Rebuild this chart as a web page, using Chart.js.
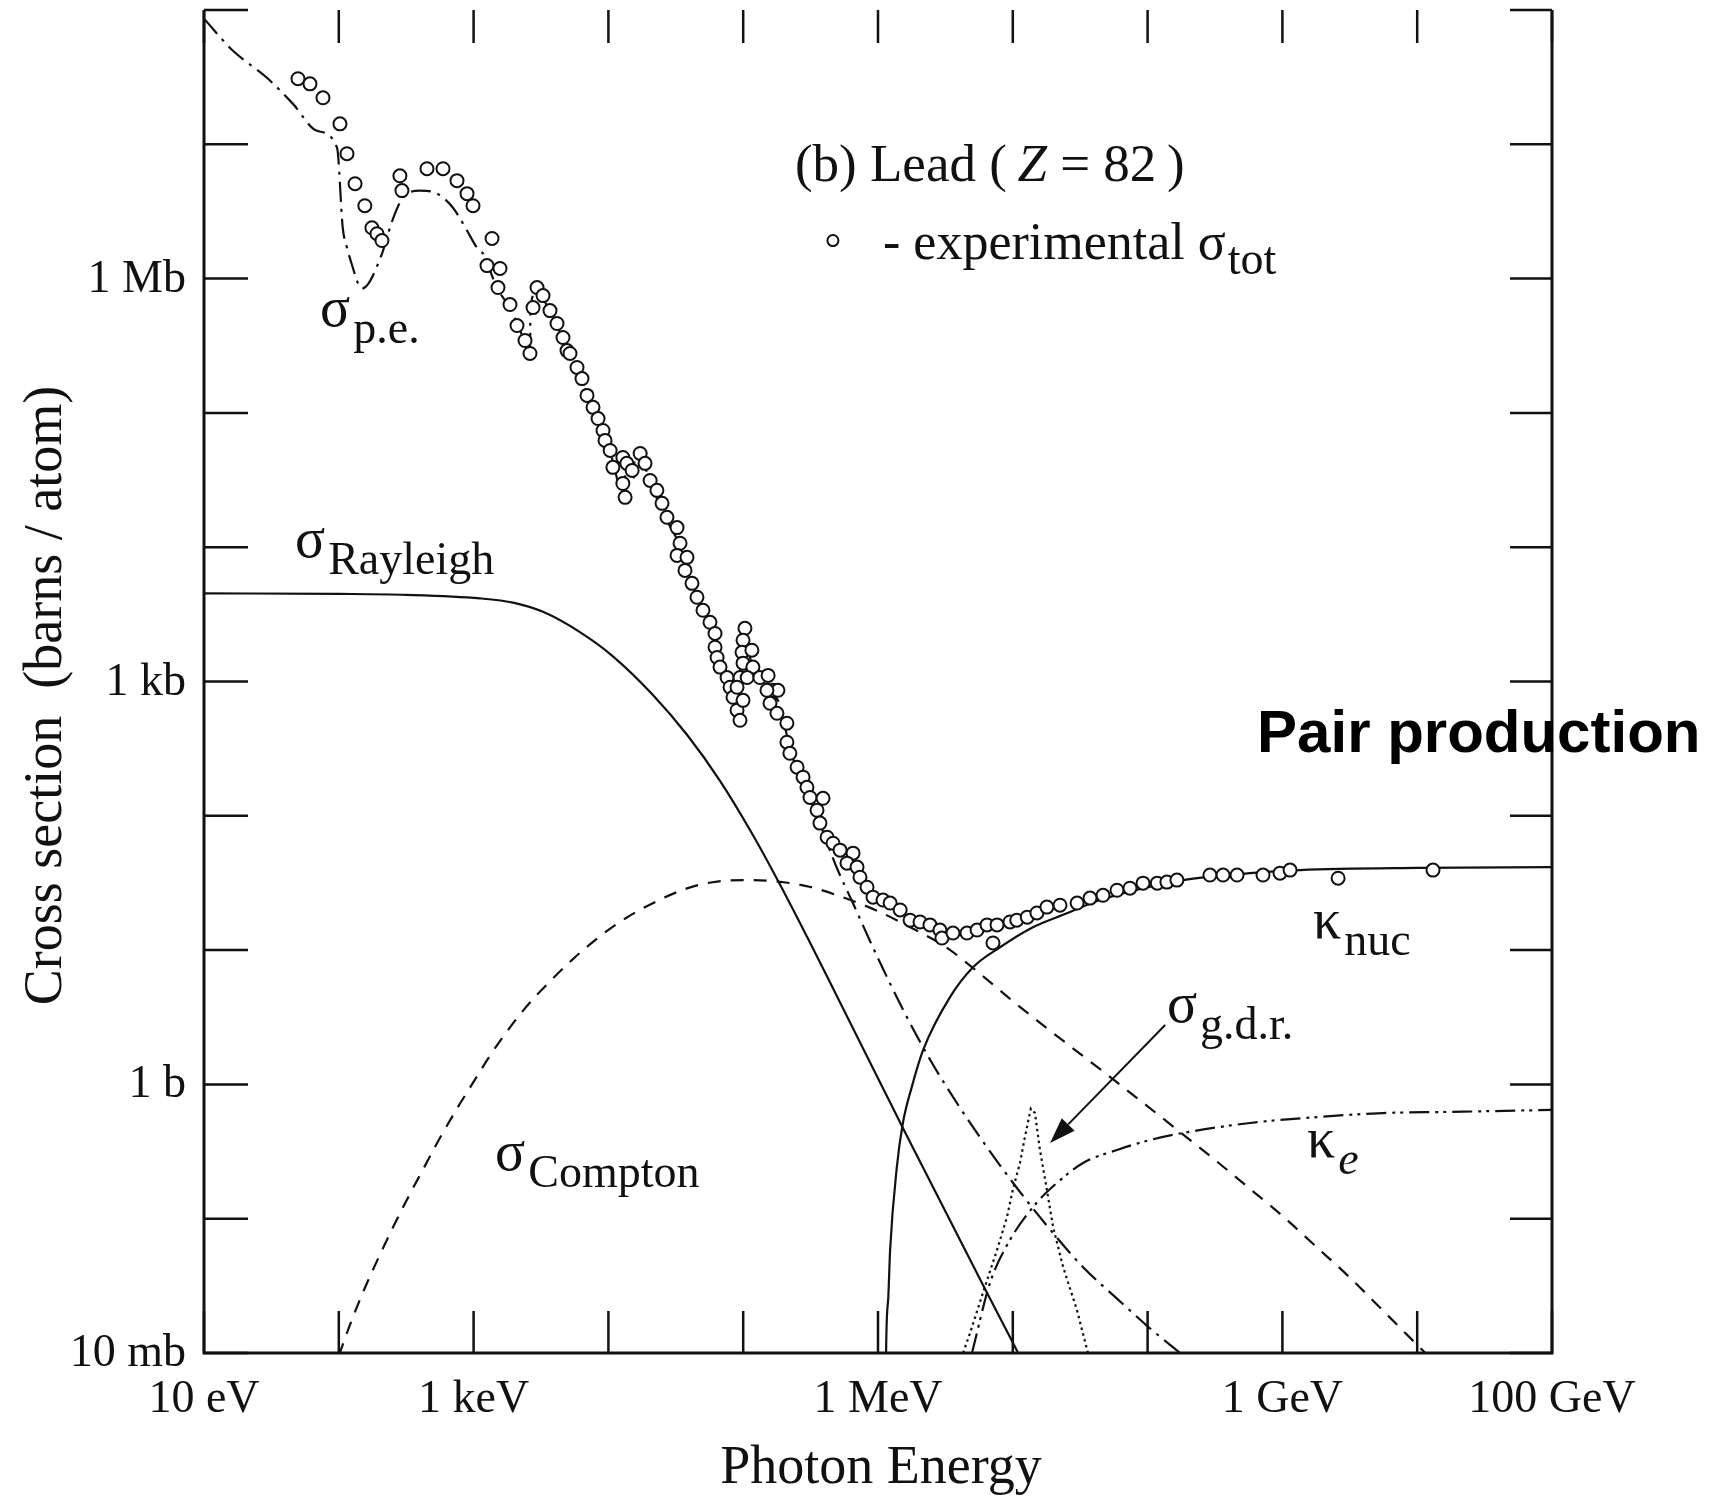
<!DOCTYPE html>
<html lang="en">
<head>
<meta charset="utf-8">
<title>Photon cross sections in lead</title>
<script src="https://cdn.jsdelivr.net/npm/chart.js@4/dist/chart.umd.min.js"></script>
<style>
  html, body { margin: 0; padding: 0; background: #ffffff; }
  canvas { display: block; }
</style>
</head>
<body>
<canvas id="chart" width="1714" height="1497"></canvas>
<script>
// Photon energies in eV, cross sections in barns per atom (lead, Z = 82).

// Experimental total cross section
const expEnergy = [
  49.8, 61.1, 76.3, 102, 115, 132, 156, 176, 192, 209,
  284, 294, 451, 593, 753, 894, 990, 1370, 1257, 1570,
  1517, 1862, 2099, 2406, 2620, 2955, 2760, 3273, 3688, 4157,
  4605, 4930, 5190, 5850, 6370, 6940, 7690, 8380, 9120, 9440,
  1.03e4, 1.08e4, 1.28e4, 1.33e4, 1.28e4, 1.37e4, 1.50e4, 1.72e4, 1.87e4, 2.04e4,
  2.29e4, 2.50e4, 2.72e4, 3.23e4, 3.40e4, 3.23e4, 3.83e4, 3.70e4, 4.17e4, 4.54e4,
  5.03e4, 5.67e4, 6.18e4, 6.18e4, 6.40e4, 6.73e4, 7.59e4, 7.99e4, 8.40e4, 9.00e4,
  9.47e4, 1.03e5, 9.97e4, 9.80e4, 1.16e5, 9.97e4, 1.18e5, 9.47e4, 9.00e4, 9.97e4,
  1.07e5, 1.33e5, 1.53e5, 1.66e5, 1.81e5, 1.50e5, 1.58e5, 1.78e5, 2.11e5, 2.11e5,
  2.22e5, 2.51e5, 2.78e5, 2.97e5, 3.13e5, 3.91e5, 3.53e5, 3.71e5, 4.19e5, 4.64e5,
  5.23e5, 6.53e5, 5.89e5, 6.99e5, 7.35e5, 8.29e5, 9.18e5, 1.09e6, 1.23e6, 1.46e6,
  1.73e6, 2.05e6, 2.43e6, 2.88e6, 2.98e6, 3.60e6, 4.57e6, 5.43e6, 6.44e6, 7.64e6,
  7.13e6, 9.53e6, 1.07e7, 1.28e7, 1.51e7, 1.79e7, 2.24e7, 3.00e7, 3.74e7, 4.67e7,
  5.93e7, 7.40e7, 9.25e7, 1.18e8, 1.39e8, 1.65e8, 2.90e8, 3.63e8, 4.61e8, 7.18e8,
  9.60e8, 1.14e9, 2.59e9, 1.31e10
];
const expSigma = [
  3.08e7, 2.82e7, 2.22e7, 1.42e7, 8.51e6, 5.09e6, 3.49e6, 2.39e6, 2.16e6, 1.92e6,
  5.83e6, 4.52e6, 6.58e6, 6.58e6, 5.36e6, 4.29e6, 3.49e6, 1.99e6, 1.25e6, 1.19e6,
  8.58e5, 6.41e5, 4.47e5, 3.46e5, 2.77e5, 8.58e5, 6.08e5, 7.47e5, 5.78e5, 4.63e5,
  3.64e5, 2.91e5, 2.77e5, 2.18e5, 1.80e5, 1.35e5, 1.10e5, 9.08e4, 7.40e4, 6.24e4,
  5.25e4, 3.93e4, 2.98e4, 2.35e4, 4.66e4, 4.21e4, 3.73e4, 4.99e4, 4.21e4, 3.14e4,
  2.65e4, 2.12e4, 1.67e4, 1.40e4, 1.07e4, 8.69e3, 8.40e3, 6.72e3, 5.38e3, 4.24e3,
  3.39e3, 2.76e3, 2.28e3, 1.80e3, 1.51e3, 1.28e3, 1.07e3, 906, 763, 611,
  514, 2.49e3, 2.03e3, 1.65e3, 1.71e3, 1.37e3, 1.28e3, 1.07e3, 906, 724,
  1.07e3, 1.07e3, 1.11e3, 860, 860, 860, 688, 580, 489, 353,
  292, 230, 194, 163, 137, 135, 110, 88.2, 69.3, 62.5,
  55.5, 52.7, 44.4, 41.5, 34.9, 29.4, 24.8, 23.6, 22.4, 19.9,
  16.7, 16.2, 15.4, 14.1, 12.3, 13.4, 13.4, 14.1, 15.4, 15.4,
  11.3, 16.2, 16.7, 17.6, 18.9, 20.9, 21.6, 22.4, 24.4, 25.6,
  27.9, 28.9, 31.5, 31.5, 32.1, 33.2, 36.2, 36.2, 36.2, 36.2,
  37.4, 39.4, 34.3, 39.4
];

// Photoelectric absorption
const peEnergy = [
  10, 16.4, 29.3, 45.7, 68.9, 97.0, 107, 115, 127, 139,
  149, 209, 232, 261, 299, 400, 536, 703, 893, 1059,
  1175, 1493, 1862, 2208, 2620, 2640, 2955, 3273, 3690, 4764,
  6368, 8375, 1.028e4, 1.33e4, 1.335e4, 1.50e4, 1.55e4, 1.56e4, 1.72e4, 2.04e4,
  2.72e4, 3.40e4, 4.54e4, 5.87e4, 7.59e4, 9.0e4, 9.55e4, 9.6e4, 1.03e5, 1.18e5,
  1.50e5, 1.81e5, 2.11e5, 2.51e5, 2.97e5, 3.53e5, 4.19e5, 5.01e5, 6.31e5, 1.0e6,
  1.58e6, 2.51e6, 3.98e6, 6.31e6, 1.07e7, 2.0e7, 3.31e7, 6.31e7, 1.0e8, 1.74e8, 2.0e8
];
const peSigma = [
  8.61e7, 4.97e7, 3.13e7, 2.00e7, 1.26e7, 9.44e6, 2.39e6, 1.70e6, 1.21e6, 9.18e5,
  8.43e5, 1.53e6, 2.16e6, 3.05e6, 4.01e6, 4.52e6, 4.29e6, 3.37e6, 2.28e6, 1.70e6,
  1.53e6, 8.51e5, 6.03e5, 4.17e5, 2.60e5, 5.90e5, 8.20e5, 7.20e5, 5.50e5, 3.39e5,
  1.74e5, 8.91e4, 5.13e4, 2.30e4, 4.30e4, 3.50e4, 3.30e4, 4.70e4, 4.70e4, 3.02e4,
  1.58e4, 1.02e4, 4.07e3, 2.63e3, 1.02e3, 600, 500, 2.40e3, 2.14e3, 1.26e3,
  832, 724, 398, 214, 148, 100, 63, 39.8, 24.0, 8.7,
  3.4, 1.45, 0.69, 0.35, 0.170, 0.0776, 0.0437, 0.024, 0.0158, 0.0100, 0.0089
];

// Coherent (Rayleigh) scattering
const rayleighEnergy = [10, 100, 316, 1114, 2000, 3273, 6150, 1.08e4, 2.14e4, 3.83e4, 6.73e4, 1.18e5, 1.87e5, 2.97e5, 4.97e5, 1.58e6, 6.01e6, 1.17e7];
const rayleighSigma = [4530, 4490, 4420, 4160, 3850, 3300, 2330, 1540, 794, 401, 182, 71.9, 30.9, 12.6, 4.52, 0.444, 0.0321, 0.0088];

// Incoherent (Compton) scattering
const comptonEnergy = [
  100, 121, 156, 202, 252, 337, 422, 536, 753, 991,
  1324, 1862, 2618, 3690, 5458, 8670, 1.37e4, 2.30e4, 3.83e4, 6.40e4,
  1.18e5, 2.0e5, 3.16e5, 5.62e5, 1.0e6, 1.78e6, 3.16e6, 5.62e6, 1.0e7, 1.78e7,
  3.16e7, 5.62e7, 1.0e8, 1.78e8, 3.16e8, 5.62e8, 1.0e9, 1.78e9, 3.16e9, 5.62e9,
  1.0e10, 1.15e10
];
const comptonSigma = [
  0.00955, 0.0162, 0.0305, 0.0540, 0.0859, 0.153, 0.233, 0.366, 0.661, 1.03,
  1.64, 2.66, 4.07, 5.85, 8.57, 12.7, 17.5, 23.2, 28.8, 32.4,
  33.2, 32.0, 29.5, 24.5, 19.5, 14.6, 10.6, 6.76, 4.17, 2.63,
  1.69, 1.08, 0.687, 0.434, 0.274, 0.170, 0.105, 0.0619, 0.0365, 0.0205,
  0.0115, 0.0100
];

// Pair production, nuclear field
const kNucEnergy = [1.145e6, 1.148e6, 1.19e6, 1.23e6, 1.38e6, 1.53e6, 1.78e6, 2.16e6, 3.42e6, 5.07e6, 8.04e6, 1.41e7, 2.52e7, 4.44e7, 1.83e8, 5.75e8, 1.35e9, 1e10, 1e11];
const kNucSigma = [0.006, 0.01, 0.0251, 0.0586, 0.243, 0.516, 0.955, 1.80, 4.47, 7.46, 10.5, 14.8, 18.8, 23.6, 33.2, 37.4, 39.4, 40.9, 41.5];

// Photonuclear giant dipole resonance
const gdrEnergy = [4.28e6, 4.82e6, 6.01e6, 7.64e6, 9.06e6, 1.00e7, 1.13e7, 1.23e7, 1.36e7, 1.46e7, 1.59e7, 1.79e7, 1.99e7, 2.36e7, 2.99e7, 3.61e7];
const gdrSigma = [0.01, 0.0141, 0.0281, 0.0586, 0.103, 0.164, 0.260, 0.406, 0.661, 0.612, 0.325, 0.164, 0.0869, 0.0438, 0.0209, 0.0100];

// Pair production, electron field
const kElecEnergy = [4.98e6, 6.78e6, 9.53e6, 1.51e7, 2.13e7, 3.32e7, 5.93e7, 1.04e8, 1.83e8, 5.75e8, 1.81e9, 5.57e9, 1.75e10, 1e11];
const kElecSigma = [0.0100, 0.0333, 0.0695, 0.132, 0.185, 0.260, 0.325, 0.385, 0.435, 0.516, 0.571, 0.612, 0.624, 0.646];

// Axis tick labels
const xTickValues = [1e1, 1e3, 1e6, 1e9, 1e11];
const xTickLabels = ['10 eV', '1 keV', '1 MeV', '1 GeV', '100 GeV'];
const yTickValues = [1e-2, 1, 1e3, 1e6];
const yTickLabels = ['10 mb', '1 b', '1 kb', '1 Mb'];

// Curve labels: symbol, subscript, anchor (energy, sigma)
const curveSymbols = ['σ', 'σ', 'σ', 'κ', 'σ', 'κ'];
const curveSubs = ['p.e.', 'Rayleigh', 'Compton', 'nuc', 'g.d.r.', 'e'];
const curveLabelEnergy = [72.6, 47.3, 1442, 1.69e9, 1.39e8, 1.52e9];
const curveLabelSigma = [4.47e5, 8.39e3, 0.231, 12.3, 2.91, 0.288];

// Other annotation anchors (energy, sigma)
const titleAnchor = [2.42e5, 5.36e6];
const legendMarkAnchor = [4.63e5, 1.92e6];
const legendTextAnchor = [1.09e6, 1.41e6];
const pairAnchor = [6.49e8, 297];
const arrowFrom = [1.35e8, 2.77];
const arrowTo = [1.89e7, 0.366];

const INK = '#111';
const SERIF = '"Liberation Serif", "Times New Roman", serif';
const SANS = '"Liberation Sans", Arial, sans-serif';

const xDecades = [];
for (let p = 1; p <= 11; p++) xDecades.push(Math.pow(10, p));
const yDecades = [];
for (let p = -2; p <= 8; p++) yDecades.push(Math.pow(10, p));

function pairs(xs, ys) { return xs.map((v, i) => ({ x: v, y: ys[i] })); }

function curve(data, dash, smooth) {
  return {
    data: data,
    showLine: true,
    borderColor: INK,
    borderWidth: 2.2,
    borderDash: dash,
    pointRadius: 0,
    fill: false,
    tension: 0,
    cubicInterpolationMode: smooth ? 'monotone' : 'default',
    order: 2
  };
}

const decorations = {
  id: 'decorations',
  afterDraw(chart) {
    const { ctx, chartArea: a, scales: { x, y } } = chart;
    const P = (e, s) => [x.getPixelForValue(e), y.getPixelForValue(s)];
    ctx.save();
    ctx.strokeStyle = INK;
    ctx.fillStyle = INK;

    // frame: left, bottom and right edges
    ctx.lineWidth = 3;
    ctx.beginPath();
    ctx.moveTo(a.left, a.top);
    ctx.lineTo(a.left, a.bottom);
    ctx.lineTo(a.right, a.bottom);
    ctx.lineTo(a.right, a.top);
    ctx.stroke();

    // inward decade ticks
    ctx.lineWidth = 2.5;
    ctx.beginPath();
    xDecades.forEach(v => {
      const px = x.getPixelForValue(v);
      ctx.moveTo(px, a.bottom); ctx.lineTo(px, a.bottom - 42);
      ctx.moveTo(px, a.top); ctx.lineTo(px, a.top + 33);
    });
    yDecades.forEach(v => {
      const py = y.getPixelForValue(v);
      ctx.moveTo(a.left, py); ctx.lineTo(a.left + 44, py);
      ctx.moveTo(a.right, py); ctx.lineTo(a.right - 42, py);
    });
    ctx.stroke();

    // tick labels
    ctx.font = `46px ${SERIF}`;
    ctx.textAlign = 'center';
    ctx.textBaseline = 'alphabetic';
    xTickValues.forEach((v, i) => ctx.fillText(xTickLabels[i], x.getPixelForValue(v), a.bottom + 59));
    ctx.textAlign = 'right';
    ctx.textBaseline = 'middle';
    yTickValues.forEach((v, i) => ctx.fillText(yTickLabels[i], a.left - 18, y.getPixelForValue(v) + 1));

    // axis titles
    ctx.textAlign = 'center';
    ctx.textBaseline = 'alphabetic';
    ctx.font = `54px ${SERIF}`;
    ctx.fillText('Photon Energy', (a.left + a.right) / 2 + 3, 1483);
    ctx.save();
    ctx.translate(61, (a.top + a.bottom) / 2 + 14);
    ctx.rotate(-Math.PI / 2);
    ctx.font = `54px ${SERIF}`;
    ctx.fillText('Cross section  (barns / atom)', 0, 0);
    ctx.restore();

    // curve labels
    ctx.textAlign = 'left';
    for (let i = 0; i < curveSymbols.length; i++) {
      const [lx, ly] = P(curveLabelEnergy[i], curveLabelSigma[i]);
      ctx.font = `56px ${SERIF}`;
      ctx.fillText(curveSymbols[i], lx, ly);
      const w = ctx.measureText(curveSymbols[i]).width;
      ctx.font = `${curveSubs[i] === 'e' ? 'italic ' : ''}46px ${SERIF}`;
      ctx.fillText(curveSubs[i], lx + w + 3, ly + 17);
    }

    // panel title
    let [tx, ty] = P(titleAnchor[0], titleAnchor[1]);
    const parts = [['(b) Lead (\u2009', false], ['Z', true], [' = 82\u2009)', false]];
    parts.forEach(([t, it]) => {
      ctx.font = `${it ? 'italic ' : ''}53px ${SERIF}`;
      ctx.fillText(t, tx, ty);
      tx += ctx.measureText(t).width;
    });

    // legend entry for the measurements
    const [mx, my] = P(legendMarkAnchor[0], legendMarkAnchor[1]);
    ctx.lineWidth = 2;
    ctx.beginPath();
    ctx.arc(mx, my, 5.5, 0, Math.PI * 2);
    ctx.stroke();
    const [ex, ey] = P(legendTextAnchor[0], legendTextAnchor[1]);
    ctx.font = `52px ${SERIF}`;
    const legText = '- experimental σ';
    ctx.fillText(legText, ex, ey);
    const lw = ctx.measureText(legText).width;
    ctx.font = `46px ${SERIF}`;
    ctx.fillText('tot', ex + lw + 2, ey + 15);

    // arrow pointing at the giant dipole resonance
    const [ax0, ay0] = P(arrowFrom[0], arrowFrom[1]);
    const [ax1, ay1] = P(arrowTo[0], arrowTo[1]);
    const ang = Math.atan2(ay1 - ay0, ax1 - ax0);
    const headLen = 26, headW = 9;
    const bx = ax1 - headLen * Math.cos(ang), by = ay1 - headLen * Math.sin(ang);
    ctx.lineWidth = 2;
    ctx.beginPath();
    ctx.moveTo(ax0, ay0); ctx.lineTo(bx, by);
    ctx.stroke();
    ctx.beginPath();
    ctx.moveTo(ax1, ay1);
    ctx.lineTo(bx + headW * Math.sin(ang), by - headW * Math.cos(ang));
    ctx.lineTo(bx - headW * Math.sin(ang), by + headW * Math.cos(ang));
    ctx.closePath();
    ctx.fill();

    // process note
    const [qx, qy] = P(pairAnchor[0], pairAnchor[1]);
    ctx.fillStyle = '#000';
    ctx.font = `bold 60px ${SANS}`;
    ctx.fillText('Pair production', qx, qy);
    ctx.restore();
  }
};

new Chart(document.getElementById('chart'), {
  type: 'scatter',
  data: {
    datasets: [
      {
        label: 'experimental σtot',
        data: pairs(expEnergy, expSigma),
        pointStyle: 'circle',
        pointRadius: 6.5,
        pointBorderWidth: 2,
        pointBackgroundColor: '#ffffff',
        pointBorderColor: INK,
        showLine: false,
        order: 0
      },
      curve(pairs(peEnergy, peSigma), [20, 7, 3, 7], true),
      curve(pairs(rayleighEnergy, rayleighSigma), [], true),
      curve(pairs(comptonEnergy, comptonSigma), [13, 10], true),
      curve(pairs(kNucEnergy, kNucSigma), [], true),
      curve(pairs(gdrEnergy, gdrSigma), [2.5, 3.5], false),
      curve(pairs(kElecEnergy, kElecSigma), [20, 6, 3, 5, 3, 6], true)
    ]
  },
  options: {
    responsive: false,
    maintainAspectRatio: false,
    devicePixelRatio: 1,
    animation: false,
    events: [],
    layout: { padding: { left: 204, right: 162, top: 10, bottom: 144 } },
    plugins: { legend: { display: false }, tooltip: { enabled: false } },
    scales: {
      x: { type: 'logarithmic', min: 1e1, max: 1e11, display: false },
      y: { type: 'logarithmic', min: 1e-2, max: 1e8, display: false }
    }
  },
  plugins: [decorations]
});
</script>
</body>
</html>
